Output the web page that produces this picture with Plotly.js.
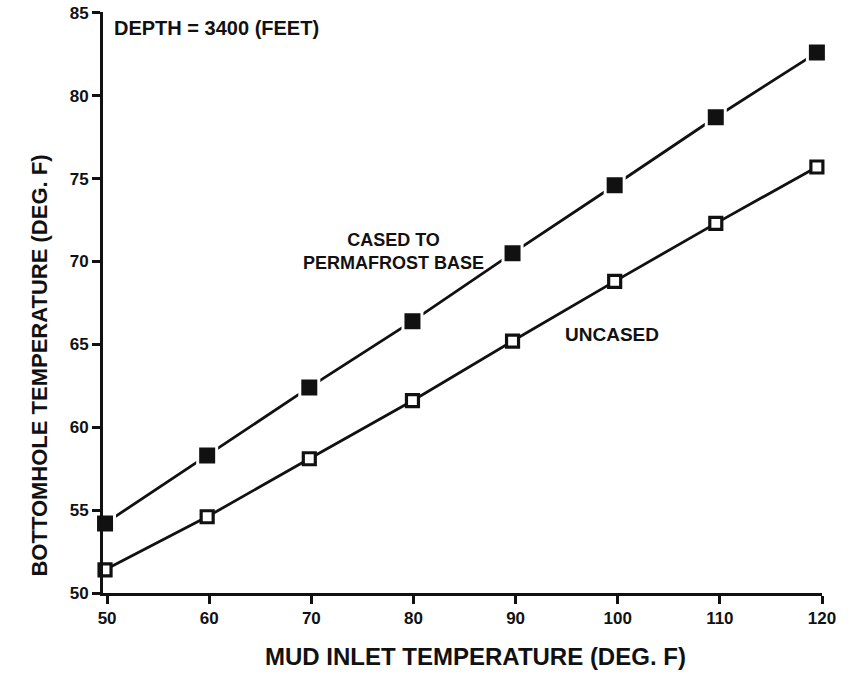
<!DOCTYPE html>
<html>
<head>
<meta charset="utf-8">
<script src="https://cdn.plot.ly/plotly-3.0.1.min.js"></script>
<style>
  html, body { margin: 0; padding: 0; background: #ffffff; }
  #chart { width: 856px; height: 675px; }
</style>
</head>
<body>
<div id="chart"></div>
<script>
// Mud inlet temperature (deg F)
const mudInletTemp = [49.8, 59.8, 69.8, 79.9, 89.7, 99.7, 109.6, 119.5];
// Bottomhole temperature (deg F), cased to permafrost base (filled squares)
const casedTemp = [54.2, 58.3, 62.4, 66.4, 70.5, 74.6, 78.7, 82.6];
// Bottomhole temperature (deg F), uncased (open squares)
const uncasedTemp = [51.4, 54.6, 58.1, 61.6, 65.2, 68.8, 72.3, 75.7];

const xTicks = [50, 60, 70, 80, 90, 100, 110, 120];
const yTicks = [50, 55, 60, 65, 70, 75, 80, 85];

const ink = '#111111';
const fontFam = 'Liberation Sans, Arial, sans-serif';

const traces = [
  {
    x: mudInletTemp, y: casedTemp, type: 'scatter', mode: 'lines+markers',
    name: 'CASED TO PERMAFROST BASE',
    line: { color: ink, width: 2.8 },
    marker: { symbol: 'square', size: 19, color: ink, line: { color: '#ffffff', width: 3 } },
    cliponaxis: false
  },
  {
    x: mudInletTemp, y: uncasedTemp, type: 'scatter', mode: 'lines+markers',
    name: 'UNCASED',
    line: { color: ink, width: 2.8 },
    marker: { symbol: 'square', size: 12, color: '#ffffff', line: { color: ink, width: 3.2 } },
    cliponaxis: false
  }
];

const layout = {
  width: 856, height: 675,
  margin: { l: 103, r: 34, t: 12, b: 82 },
  paper_bgcolor: '#ffffff', plot_bgcolor: '#ffffff',
  showlegend: false,
  font: { family: fontFam, color: ink },
  xaxis: {
    range: [49.6, 120], tickvals: xTicks, ticktext: xTicks.map(v => '<b>' + v + '</b>'),
    showgrid: false, zeroline: false,
    showline: true, linecolor: ink, linewidth: 3,
    ticks: 'outside', ticklen: 8, tickwidth: 3, tickcolor: ink,
    tickfont: { family: fontFam, size: 17, color: ink }
  },
  yaxis: {
    range: [50, 85.05], tickvals: yTicks, ticktext: yTicks.map(v => '<b>' + v + '</b>'),
    showgrid: false, zeroline: false,
    showline: true, linecolor: ink, linewidth: 3,
    ticks: 'outside', ticklen: 8, tickwidth: 3, tickcolor: ink,
    tickfont: { family: fontFam, size: 17, color: ink }
  },
  annotations: [
    { xref: 'paper', yref: 'paper', x: 0.518, y: -0.109, xanchor: 'center', yanchor: 'middle',
      text: '<b>MUD INLET TEMPERATURE (DEG. F)</b>', showarrow: false,
      font: { family: fontFam, size: 24, color: ink } },
    { xref: 'paper', yref: 'paper', x: -0.088, y: 0.391, xanchor: 'center', yanchor: 'middle',
      textangle: -90,
      text: '<b>BOTTOMHOLE TEMPERATURE (DEG. F)</b>', showarrow: false,
      font: { family: fontFam, size: 22, color: ink } },
    { xref: 'paper', yref: 'paper', x: 0.012, y: 0.972, xanchor: 'left', yanchor: 'middle',
      text: '<b>DEPTH = 3400 (FEET)</b>', showarrow: false,
      font: { family: fontFam, size: 20, color: ink } },
    { xref: 'x', yref: 'y', x: 78.0, y: 70.6, xanchor: 'center', yanchor: 'middle',
      text: '<b>CASED TO<br>PERMAFROST BASE</b>', showarrow: false,
      font: { family: fontFam, size: 18, color: ink } },
    { xref: 'x', yref: 'y', x: 99.4, y: 65.6, xanchor: 'center', yanchor: 'middle',
      text: '<b>UNCASED</b>', showarrow: false,
      font: { family: fontFam, size: 19, color: ink } }
  ]
};

Plotly.newPlot('chart', traces, layout, { staticPlot: true, displayModeBar: false });
</script>
</body>
</html>
